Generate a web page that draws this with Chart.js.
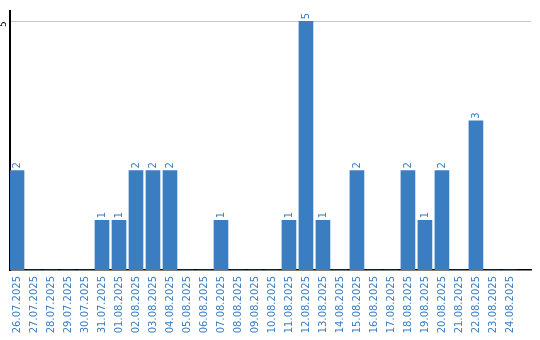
<!DOCTYPE html>
<html>
<head>
<meta charset="utf-8">
<script src="https://cdn.jsdelivr.net/npm/chart.js@4"></script>
<style>
  html, body { margin: 0; padding: 0; background: #fff; }
  #wrap { width: 540px; height: 340px; }
</style>
</head>
<body>
<div id="wrap"><canvas id="chart" width="540" height="340"></canvas></div>
<script>
// Dates (categories) and counts per day
const dates = [
  "26.07.2025", "27.07.2025", "28.07.2025", "29.07.2025", "30.07.2025",
  "31.07.2025", "01.08.2025", "02.08.2025", "03.08.2025", "04.08.2025",
  "05.08.2025", "06.08.2025", "07.08.2025", "08.08.2025", "09.08.2025",
  "10.08.2025", "11.08.2025", "12.08.2025", "13.08.2025", "14.08.2025",
  "15.08.2025", "16.08.2025", "17.08.2025", "18.08.2025", "19.08.2025",
  "20.08.2025", "21.08.2025", "22.08.2025", "23.08.2025", "24.08.2025"
];
const counts = [
  2, 0, 0, 0, 0,
  1, 1, 2, 2, 2,
  0, 0, 1, 0, 0,
  0, 1, 5, 1, 0,
  2, 0, 0, 2, 1,
  2, 0, 3, 0, 0
];
const yTicks = [5];

const BLUE = "#3b7dc1";
const FONT = "DejaVu Sans";

// ==========================
// valeurs au-dessus des barres (rotation -90)
// ==========================
const valueLabels = {
  id: "valueLabels",
  afterDatasetsDraw(chart) {
    const ctx = chart.ctx;
    const meta = chart.getDatasetMeta(0);
    ctx.save();
    ctx.fillStyle = BLUE;
    ctx.font = "10px '" + FONT + "'";
    ctx.textAlign = "left";
    ctx.textBaseline = "middle";
    meta.data.forEach((bar, i) => {
      const v = counts[i];
      if (!v) return;
      ctx.save();
      ctx.translate(bar.x, bar.y - 2);
      ctx.rotate(-Math.PI / 2);
      ctx.fillText(String(v), 0, 0);
      ctx.restore();
    });
    ctx.restore();
  }
};

new Chart(document.getElementById("chart").getContext("2d"), {
  type: "bar",
  data: {
    datasets: [{
      data: counts.map((v, i) => ({ x: i, y: v })),
      backgroundColor: BLUE,
      borderWidth: 0,
      barThickness: 14
    }]
  },
  options: {
    responsive: false,
    animation: false,
    layout: { padding: { top: 10, right: 9, left: 0, bottom: 0 } },
    plugins: {
      legend: { display: false },
      tooltip: { enabled: false }
    },
    scales: {
      x: {
        type: "linear",
        offset: false,
        bounds: "data",
        min: -7 / 17,
        max: 30.24,
        grid: { display: false, drawTicks: false, offset: false },
        border: { display: true, color: "#000", width: 1.5 },
        afterBuildTicks: (scale) => {
          scale.ticks = dates.map((d, i) => ({ value: i }));
        },
        afterFit: (scale) => { scale.height = 70; },
        ticks: {
          autoSkip: false,
          minRotation: 90,
          maxRotation: 90,
          padding: 6,
          color: BLUE,
          font: { family: FONT, size: 10 },
          callback: (v) => dates[v]
        }
      },
      y: {
        min: 0,
        max: 5.2,
        grid: { color: "#c8c8c8", lineWidth: 1, drawTicks: false },
        border: { display: true, color: "#000", width: 2 },
        afterBuildTicks: (scale) => {
          scale.ticks = yTicks.map((v) => ({ value: v }));
        },
        afterFit: (scale) => { scale.width = 10; },
        ticks: {
          minRotation: 90,
          maxRotation: 90,
          crossAlign: "near",
          padding: 6,
          color: "#000",
          font: { family: FONT, size: 9 }
        }
      }
    }
  },
  plugins: [valueLabels]
});
</script>
</body>
</html>
